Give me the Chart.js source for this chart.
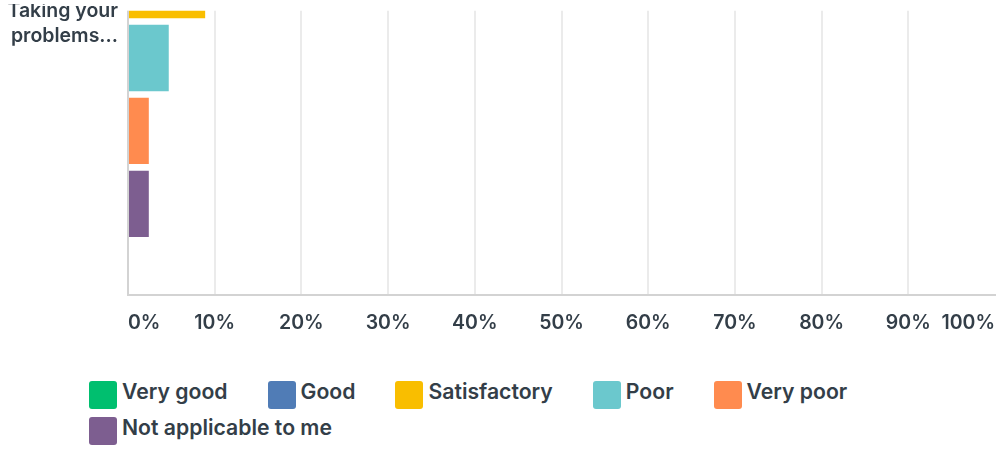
<!DOCTYPE html>
<html>
<head>
<meta charset="utf-8">
<style>
  body { margin: 0; background: #fff; }
  #frame { position: relative; width: 996px; height: 450px; overflow: hidden; }
  /* the plot is taller than the window; it is scrolled to its last rows */
  #plot-window { position: absolute; left: 0; top: 0; width: 996px; height: 356px; overflow: hidden; }
  #plot { position: absolute; left: 0; top: -262px; width: 996px; height: 618px; }
  #legend { position: absolute; left: 89px; top: 381px; width: 900px; display: flex; flex-wrap: wrap; column-gap: 40px; row-gap: 8px; }
  .item { display: flex; align-items: center; height: 28px; }
  .swatch { width: 28px; height: 28px; border-radius: 3px; margin-right: 5px; }
  .item span { font: 600 21.2px Inter, sans-serif; color: #333e48; position: relative; top: -4px; white-space: nowrap; }
</style>
</head>
<body>
<div id="frame">
  <div id="plot-window">
    <div id="plot"><canvas id="survey-chart"></canvas></div>
  </div>
  <div id="legend"></div>
</div>

<script src="https://cdn.jsdelivr.net/npm/chart.js"></script>

<script>
  const categories = [['Taking your', 'problems...']]
  const seriesNames = ['Very good', 'Good', 'Satisfactory', 'Poor', 'Very poor', 'Not applicable to me']
  const seriesColors = ['#00bf6f', '#507cb6', '#f9be00', '#6bc8cd', '#ff8b4f', '#7d5e90']

  // percent of answers per rating
  const veryGood = [null]
  const good = [null]
  const satisfactory = [8.9]
  const poor = [4.7]
  const veryPoor = [2.4]
  const notApplicable = [2.4]
  const seriesValues = [veryGood, good, satisfactory, poor, veryPoor, notApplicable]

  const percentTicks = [0, 10, 20, 30, 40, 50, 60, 70, 80, 90, 100]

  const textColor = '#333e48'
  const labelFont = { family: 'Inter', size: 19.5, weight: '600' }

  // keep a thin clear strip at the top of the scrolled window
  const plotCrop = {
    id: 'plotCrop',
    beforeDraw(chart, args, opts) {
      const { ctx, chartArea, width, height } = chart
      const edge = chartArea.left - 3
      ctx.save()
      ctx.beginPath()
      ctx.rect(0, opts.labelTop, edge, height)
      ctx.rect(edge, opts.plotTop, width - edge, height)
      ctx.clip()
    },
    afterDraw(chart) {
      chart.ctx.restore()
    }
  }

  const ctx = document.getElementById('survey-chart').getContext('2d')
  const chart = new Chart(ctx, {
    type: 'bar',
    data: {
      labels: categories,
      datasets: seriesNames.map((name, i) => ({
        label: name,
        data: seriesValues[i],
        backgroundColor: seriesColors[i],
        borderWidth: 0,
        barPercentage: 0.91,
        categoryPercentage: 0.8,
      }))
    },
    plugins: [plotCrop],
    options: {
      indexAxis: 'y',
      responsive: true,
      maintainAspectRatio: false,
      animation: false,
      layout: { padding: { top: 10, right: 1, bottom: 5.6, left: 0 } },
      plugins: {
        legend: { display: false },
        tooltip: { enabled: false },
        plotCrop: { labelTop: 266, plotTop: 272.7 },
      },
      scales: {
        x: {
          min: 0,
          max: 100,
          afterBuildTicks: scale => { scale.ticks = percentTicks.map(v => ({ value: v })) },
          // edge labels are aligned inward, so no extra side padding is needed
          afterFit: scale => { scale.paddingLeft = 0; scale.paddingRight = 0 },
          grid: {
            color: c => (c.tick && c.tick.value === 100) ? 'rgba(0,0,0,0)' : '#ebebeb',
            lineWidth: 2,
            drawTicks: false,
          },
          border: { color: '#d3d3d3', width: 2 },
          ticks: {
            align: 'inner',
            padding: 16,
            color: textColor,
            font: labelFont,
            callback: v => v + '%',
          },
        },
        y: {
          grid: { display: false, drawTicks: false },
          border: { display: true, color: '#d3d3d3', width: 2 },
          afterFit: scale => { scale.width = 128; scale.paddingTop = 0; scale.paddingBottom = 0 },
          ticks: {
            padding: 10,
            labelOffset: 2,
            color: textColor,
            font: { ...labelFont, lineHeight: 1.28 },
          },
        },
      },
    }
  })

  // legend as html below the plot
  const legendBox = document.getElementById('legend')
  chart.data.datasets.forEach(ds => {
    const item = document.createElement('div')
    item.className = 'item'
    const swatch = document.createElement('div')
    swatch.className = 'swatch'
    swatch.style.background = ds.backgroundColor
    const text = document.createElement('span')
    text.textContent = ds.label
    item.appendChild(swatch)
    item.appendChild(text)
    legendBox.appendChild(item)
  })
</script>
</body>
</html>
